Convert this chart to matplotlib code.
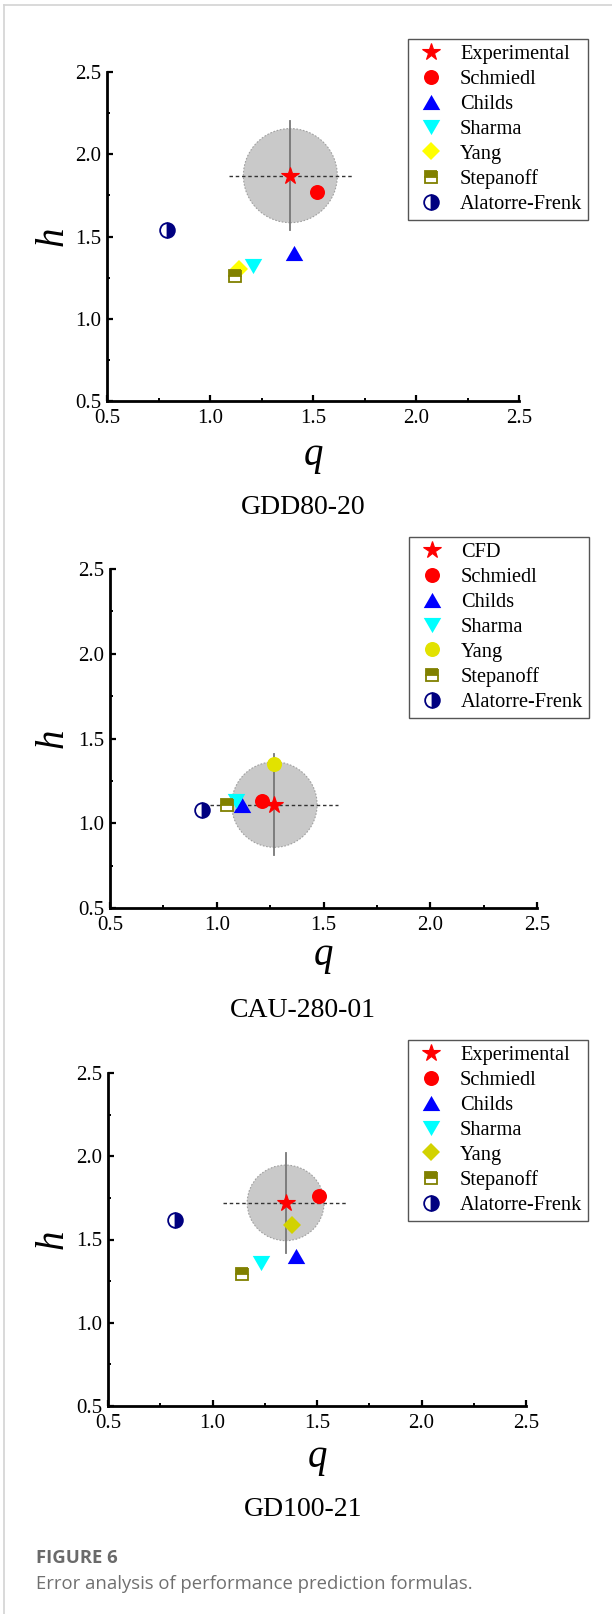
import numpy as np
import matplotlib
matplotlib.use('Agg')
import matplotlib.pyplot as plt
from matplotlib.patches import Ellipse
from matplotlib.lines import Line2D

plt.rcParams['font.family'] = ['Liberation Serif', 'DejaVu Serif']

# ---- data ----
panel_titles = ['GDD80-20', 'CAU-280-01', 'GD100-21']

names_gdd = ['Experimental', 'Schmiedl', 'Childs', 'Sharma', 'Yang', 'Stepanoff', 'Alatorre-Frenk']
q_gdd = [1.39, 1.52, 1.41, 1.21, 1.14, 1.12, 0.79]
h_gdd = [1.87, 1.77, 1.40, 1.32, 1.30, 1.26, 1.54]

names_cau = ['CFD', 'Schmiedl', 'Childs', 'Sharma', 'Yang', 'Stepanoff', 'Alatorre-Frenk']
q_cau = [1.27, 1.21, 1.12, 1.09, 1.27, 1.05, 0.93]
h_cau = [1.11, 1.13, 1.11, 1.13, 1.35, 1.11, 1.08]

names_gd = ['Experimental', 'Schmiedl', 'Childs', 'Sharma', 'Yang', 'Stepanoff', 'Alatorre-Frenk']
q_gd = [1.35, 1.51, 1.40, 1.23, 1.38, 1.14, 0.82]
h_gd = [1.72, 1.76, 1.40, 1.36, 1.59, 1.29, 1.62]

# error region round the reference point (half widths in q, h)
region_r = [(0.228, 0.286), (0.200, 0.252), (0.184, 0.227)]
cross_len = [(0.30, 0.33), (0.30, 0.30), (0.30, 0.30)]

ticks = [0.5, 1.0, 1.5, 2.0, 2.5]
minor_ticks = [0.75, 1.25, 1.75, 2.25]

# ---- layout (pixels) ----
W, H = 612, 1614
axes_px = [(107, 72, 519, 401), (110, 569, 537, 908), (108, 1073, 526, 1406)]
legend_px = [(408, 39), (409, 537), (408, 1040)]
title_y = [507, 1011, 1510]
qlabel_y = [465, 965, 1467]

up_tri = [(-1, -0.866), (1, -0.866), (0, 0.866)]
down_tri = [(-1, 0.866), (1, 0.866), (0, -0.866)]


def fx(x):
    return x / W


def fy(y):
    return 1 - y / H


def marker_styles(panel):
    yang_color = ['#ffff00', '#e2e200', '#d2d200'][panel]
    yang_marker = 'o' if panel == 1 else 'D'
    yang_ms = 10.8 if panel == 1 else 9.3
    return [
        dict(marker='*', color='#ff0000', ms=13.0, mec='#ff0000', mew=0.8),
        dict(marker='o', color='#ff0000', ms=10.8, mec='#ff0000', mew=0),
        dict(marker=up_tri, color='#0000ff', ms=12.6, mec='#0000ff', mew=0),
        dict(marker=down_tri, color='#00ffff', ms=12.6, mec='#00ffff', mew=0),
        dict(marker=yang_marker, color=yang_color, ms=yang_ms, mec=yang_color, mew=0),
        dict(marker='s', color='#808000', ms=9.0, mec='#808000', mew=1.3,
             fillstyle='top', markerfacecoloralt='white'),
        dict(marker='o', color='#000080', ms=10.6, mec='#000080', mew=1.3,
             fillstyle='right', markerfacecoloralt='white'),
    ]


fig = plt.figure(figsize=(W / 100, H / 100), dpi=100)

panels = [(names_gdd, q_gdd, h_gdd), (names_cau, q_cau, h_cau), (names_gd, q_gd, h_gd)]

for i, (names, qv, hv) in enumerate(panels):
    x0, y0, x1, y1 = axes_px[i]
    ax = fig.add_axes([fx(x0), fy(y1), (x1 - x0) / W, (y1 - y0) / H])
    ax.set_xlim(0.5, 2.5)
    ax.set_ylim(0.5, 2.5)
    for s in ['top', 'right']:
        ax.spines[s].set_visible(False)
    for s in ['left', 'bottom']:
        ax.spines[s].set_linewidth(2.0)
    ax.set_xticks(ticks)
    ax.set_yticks(ticks)
    ax.set_xticks(minor_ticks, minor=True)
    ax.set_yticks(minor_ticks, minor=True)
    ax.set_xticklabels(['%.1f' % t for t in ticks])
    ax.set_yticklabels(['%.1f' % t for t in ticks])
    ax.tick_params(which='major', direction='in', length=4.5, width=1.6,
                   labelsize=15, pad=4)
    ax.tick_params(axis='x', which='major', pad=6)
    ax.tick_params(which='minor', direction='in', length=2.5, width=1.4)

    # error circle and cross round the reference point
    rq, rh = region_r[i]
    ax.add_patch(Ellipse((qv[0], hv[0]), 2 * rq, 2 * rh, facecolor='#c9c9c9',
                         edgecolor='#a0a0a0', lw=0.8, ls=(0, (1.5, 1.5)), zorder=1))
    cq, ch = cross_len[i]
    ax.plot([qv[0] - cq, qv[0] + cq], [hv[0], hv[0]], color='#333333', lw=1.0,
            ls=(0, (2.5, 2)), zorder=2)
    ax.plot([qv[0], qv[0]], [hv[0] - ch, hv[0] + ch], color='#777777', lw=1.3, zorder=2)

    styles = marker_styles(i)
    order = [1, 2, 3, 4, 5, 6, 0]
    lines = {}
    for k in order:
        st = dict(styles[k])
        mk = st.pop('marker')
        ln, = ax.plot([qv[k]], [hv[k]], ls='none', marker=mk, label=names[k],
                      zorder=3 + (k == 0), clip_on=False, **st)
        lines[k] = ln
    handles = [lines[k] for k in range(len(names))]

    leg = fig.legend(handles=handles, loc='upper left',
                     bbox_to_anchor=(fx(legend_px[i][0]), fy(legend_px[i][1])),
                     prop={'size': 14.7}, frameon=True, fancybox=False,
                     edgecolor='#555555', framealpha=1, borderpad=0.3,
                     labelspacing=0.27, handlelength=1.65, handletextpad=0.6,
                     borderaxespad=0, numpoints=1)
    leg.get_frame().set_linewidth(1.0)

    fig.text(fx(53), fy((y0 + y1) / 2), 'h', fontsize=28, fontstyle='italic',
             rotation=90, ha='center', va='center')
    fig.text(fx((x0 + x1) / 2), fy(qlabel_y[i]), 'q', fontsize=28,
             fontstyle='italic', ha='center', va='baseline')
    fig.text(fx(303), fy(title_y[i]), panel_titles[i], fontsize=20,
             ha='center', va='center')

# page frame lines and caption
fig.add_artist(Line2D([fx(4), 1], [fy(5), fy(5)], color='#d3d3d3', lw=1.2))
fig.add_artist(Line2D([fx(4), fx(4)], [fy(5), 0], color='#d3d3d3', lw=1.2))
fig.text(fx(36), fy(1558), 'FIGURE 6', family=['Open Sans', 'DejaVu Sans'],
         fontweight='bold', fontsize=13.3, color='#6a6a6a', va='center')
fig.text(fx(36), fy(1584), 'Error analysis of performance prediction formulas.',
         family=['Open Sans', 'DejaVu Sans'], fontsize=13.3, color='#707070',
         va='center')

fig.savefig('out.png', dpi=100)
